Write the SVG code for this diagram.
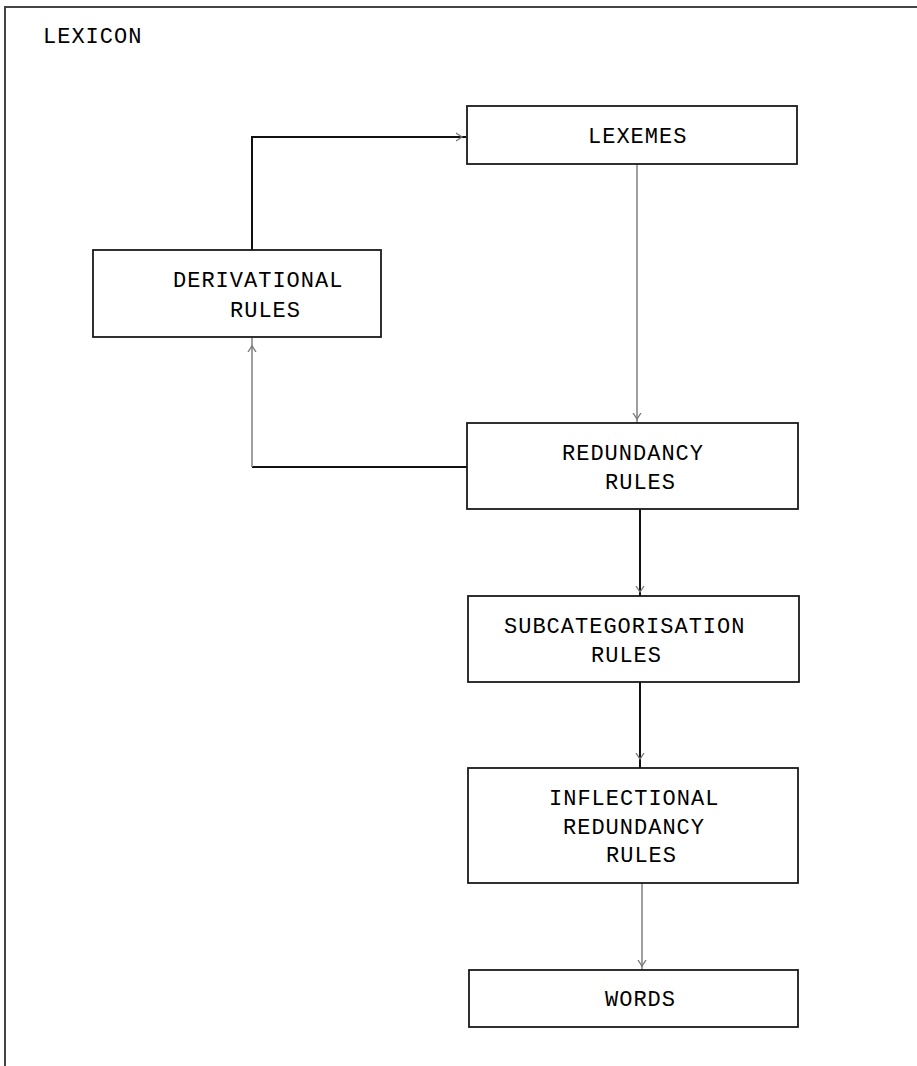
<svg xmlns="http://www.w3.org/2000/svg" width="917" height="1066" viewBox="0 0 917 1066">
<style>
.box{fill:#fff;stroke:#1a1a1a;stroke-width:1.8}
.t{font-family:"Liberation Mono","DejaVu Sans Mono",monospace;font-size:22px;letter-spacing:1px;fill:#000}
.dark{fill:none;stroke:#111;stroke-width:2}
.grey{fill:none;stroke:#777;stroke-width:1.4}
.frame{fill:none;stroke:#444;stroke-width:2}
</style>
<defs>
<marker id="arr" markerUnits="userSpaceOnUse" markerWidth="20" markerHeight="10" refX="10" refY="4" orient="auto" viewBox="0 0 20 8">
<path d="M0,0 L6,4 L0,8" fill="none" stroke="#777" stroke-width="1.3"/>
</marker>
<marker id="arrFar" markerUnits="userSpaceOnUse" markerWidth="20" markerHeight="10" refX="15" refY="4" orient="auto" viewBox="0 0 20 8">
<path d="M0,0 L6,4 L0,8" fill="none" stroke="#777" stroke-width="1.3"/>
</marker>
</defs>
<rect width="917" height="1066" fill="#fff"/>
<g id="frame">
<path class="frame" d="M5,1066 V7 H917"/>
<text class="t" x="43" y="43">LEXICON</text>
</g>
<g id="connectors">
<path class="dark" d="M252,250 V137 H466" marker-end="url(#arr)"/>
<path class="grey" d="M637,164 V423" marker-end="url(#arr)"/>
<path class="dark" d="M468,467 H252"/>
<path class="grey" d="M252,467 V337" marker-end="url(#arrFar)"/>
<path class="dark" d="M640,509 V596" marker-end="url(#arr)"/>
<path class="dark" d="M640,682 V768" marker-end="url(#arrFar)"/>
<path class="grey" d="M642,883 V970" marker-end="url(#arr)"/>
</g>
<g id="lexemes">
<rect class="box" x="467" y="106" width="330" height="58"/>
<text class="t" x="588" y="143">LEXEMES</text>
</g>
<g id="derivational">
<rect class="box" x="93" y="250" width="288" height="87"/>
<text class="t" x="173" y="287">DERIVATIONAL</text>
<text class="t" x="230" y="317">RULES</text>
</g>
<g id="redundancy">
<rect class="box" x="467" y="423" width="331" height="86"/>
<text class="t" x="562" y="460">REDUNDANCY</text>
<text class="t" x="605" y="489">RULES</text>
</g>
<g id="subcategorisation">
<rect class="box" x="468" y="596" width="331" height="86"/>
<text class="t" x="504" y="633">SUBCATEGORISATION</text>
<text class="t" x="591" y="662">RULES</text>
</g>
<g id="inflectional">
<rect class="box" x="468" y="768" width="330" height="115"/>
<text class="t" x="549" y="805">INFLECTIONAL</text>
<text class="t" x="563" y="834">REDUNDANCY</text>
<text class="t" x="606" y="862">RULES</text>
</g>
<g id="words">
<rect class="box" x="469" y="970" width="329" height="57"/>
<text class="t" x="605" y="1006">WORDS</text>
</g>
</svg>
